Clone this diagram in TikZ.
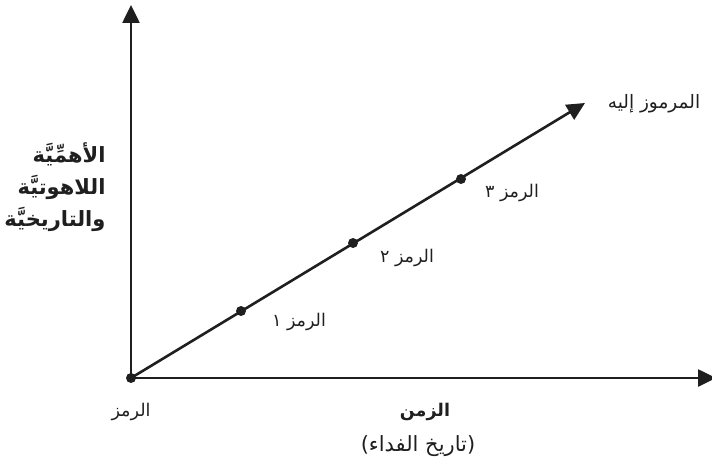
\documentclass[tikz,border=0pt]{standalone}
\usepackage{fontspec}
\usepackage{tikz}
\usetikzlibrary{arrows.meta}
\TeXXeTstate=1
\newfontfamily\arabicfont[Script=Arabic]{DejaVu Sans}
\newcommand{\ar}[1]{\arabicfont\beginR #1\endR}

\begin{document}
\begin{tikzpicture}[
  x=1pt, y=-1pt,
  font=\fontsize{17.5}{21}\selectfont,
  axis/.style={line width=2.6pt, draw=black!88,
               -{Triangle[length=18pt, width=17pt]}},
  dot/.style={circle, fill=black!88, inner sep=0pt, minimum size=10pt},
  lbl/.style={text=black!88, inner sep=0pt},
  ttl/.style={lbl, font=\fontsize{17.5}{21}\selectfont\bfseries, align=center},
]
\useasboundingbox (0,0) rectangle (712,468);

% ============ axes ============
\node[dot] (o) at (131,378) {};
\coordinate (ytop) at (131,5);
\coordinate (xend) at (716,378);
\coordinate (dtip) at (585,103);
\draw[axis] (o.center) -- (ytop);
\draw[axis] (o.center) -- (xend);
\draw[axis] (o.center) -- (dtip);

% ============ symbols on the line ============
\node[dot] (s1) at (241,311) {};
\node[dot] (s2) at (353,243) {};
\node[dot] (s3) at (461,179) {};

% ============ labels ============
\node[lbl] (l1) at (299,322) {\ar{الرمز ١}};
\node[lbl] (l2) at (407,258) {\ar{الرمز ٢}};
\node[lbl] (l3) at (512,193) {\ar{الرمز ٣}};
\node[lbl, font=\fontsize{18.5}{22}\selectfont] (lt) at (654,104) {\ar{المرموز إليه}};
\node[lbl] (lo) at (131,412) {\ar{الرمز}};

\node[ttl] (tx) at (425,412) {\ar{الزمن}};
\node[lbl, font=\fontsize{21}{25}\selectfont] (tx2) at (418,446) {\ar{(تاريخ الفداء)}};

\node[ttl, font=\fontsize{21}{32}\selectfont\bfseries, align=right] (ty) at (55,187)
  {\ar{الأهمِّيَّة}\\\ar{اللاهوتيَّة}\\\ar{والتاريخيَّة}};

\end{tikzpicture}
\end{document}
